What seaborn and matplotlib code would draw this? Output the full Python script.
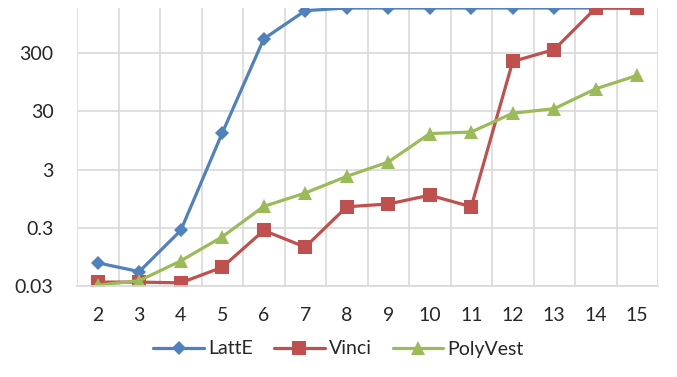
import numpy as np
import pandas as pd
import seaborn as sns
import matplotlib.pyplot as plt
from matplotlib.ticker import FixedLocator, NullFormatter

# data (seconds, log scale, capped at the 1800 s timeout)
dims = list(range(2, 16))
latte = [0.075, 0.053, 0.27, 12.8, 530, 1620, 1800, 1800, 1800, 1800, 1800, 1800, 1800, 1800]
vinci = [0.035, 0.035, 0.034, 0.063, 0.27, 0.14, 0.69, 0.77, 1.09, 0.69, 217, 348, 1800, 1800]
polyvest = [0.031, 0.037, 0.081, 0.21, 0.70, 1.19, 2.3, 4.05, 12.5, 13.3, 28, 33.5, 73.5, 125]
yticks = [0.03, 0.3, 3, 30, 300]
ytick_labels = ["0.03", "0.3", "3", "30", "300"]

d = pd.DataFrame({
    "dim": dims * 3,
    "time": latte + vinci + polyvest,
    "tool": ["LattE"] * 14 + ["Vinci"] * 14 + ["PolyVest"] * 14,
})

sns.set_style("white")
plt.rcParams["font.family"] = ["Lato", "DejaVu Sans"]

palette = {"LattE": "#4F81BD", "Vinci": "#C0504D", "PolyVest": "#9BBB59"}
markers = {"LattE": "D", "Vinci": "s", "PolyVest": "^"}
msizes = {"LattE": 7, "Vinci": 9.5, "PolyVest": 9.5}

fig, ax = plt.subplots(figsize=(6.77, 3.77), dpi=100)
plt.subplots_adjust(left=77 / 677, right=658 / 677, top=1 - 8 / 377, bottom=1 - 286 / 377)

for tool in ["LattE", "Vinci", "PolyVest"]:
    sns.lineplot(data=d[d["tool"] == tool], x="dim", y="time", ax=ax,
                 color=palette[tool], marker=markers[tool], markersize=msizes[tool],
                 markeredgewidth=0, linewidth=2.3, label=tool, legend=False)

ax.set_yscale("log")
ax.set_ylim(0.03, 1800)
ax.set_xlim(1.5, 15.5)
ax.yaxis.set_major_locator(FixedLocator(yticks))
ax.set_yticklabels(ytick_labels)
ax.yaxis.set_minor_formatter(NullFormatter())
ax.yaxis.set_minor_locator(FixedLocator([]))
ax.set_xticks(dims)
ax.set_xticklabels([str(x) for x in dims])
ax.xaxis.set_minor_locator(FixedLocator(np.arange(1.5, 16, 1)))

ax.grid(False)
ax.grid(axis="y", which="major", color="#D9D9D9", linewidth=1.2)
ax.grid(axis="x", which="minor", color="#D9D9D9", linewidth=1.2)
ax.tick_params(axis="both", which="both", length=0)
ax.tick_params(axis="x", pad=15, labelsize=14)
ax.tick_params(axis="y", pad=17, labelsize=14)
ax.set_xlabel("")
ax.set_ylabel("")
for side in ["top", "left", "right"]:
    ax.spines[side].set_visible(False)
ax.spines["bottom"].set_color("#D9D9D9")
ax.spines["bottom"].set_linewidth(1.2)

handles, labels = ax.get_legend_handles_labels()
fig.legend(handles, labels, loc="center", bbox_to_anchor=(0.5, 1 - 349 / 377), ncol=3,
           frameon=False, fontsize=14, handlelength=2.6, columnspacing=1.1, handletextpad=0.2)

plt.savefig("out.png", dpi=100)
